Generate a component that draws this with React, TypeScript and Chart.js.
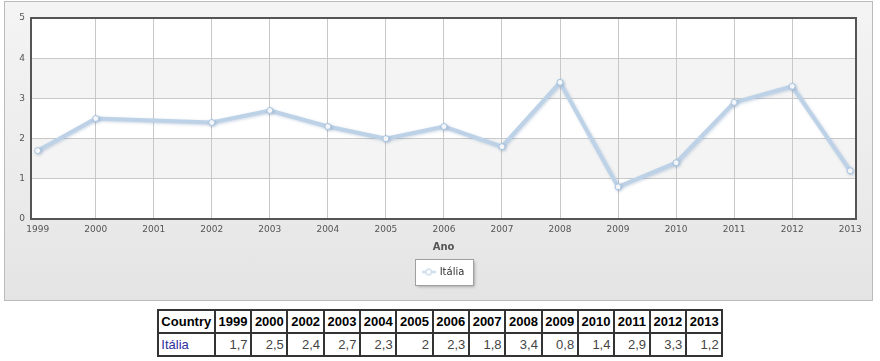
import React, { useEffect, useRef } from "react";
import { Chart, registerables } from "chart.js";

Chart.register(...registerables);

const seriesName = "Itália";
const xTitle = "Ano";
const countryHeader = "Country";
const years = [1999, 2000, 2002, 2003, 2004, 2005, 2006, 2007, 2008, 2009, 2010, 2011, 2012, 2013];
const values = [1.7, 2.5, 2.4, 2.7, 2.3, 2, 2.3, 1.8, 3.4, 0.8, 1.4, 2.9, 3.3, 1.2];
const xTickYears = [1999, 2000, 2001, 2002, 2003, 2004, 2005, 2006, 2007, 2008, 2009, 2010, 2011, 2012, 2013];
const yTickValues = [0, 1, 2, 3, 4, 5];
const shadedBands = [
  [1, 2],
  [3, 4],
];

function makeLegendIcon(): HTMLCanvasElement {
  const c = document.createElement("canvas");
  c.width = 14;
  c.height = 9;
  const g = c.getContext("2d")!;
  g.strokeStyle = "#c6d8ea";
  g.lineWidth = 2;
  g.beginPath();
  g.moveTo(0, 4.5);
  g.lineTo(14, 4.5);
  g.stroke();
  g.beginPath();
  g.arc(7, 4.5, 3, 0, Math.PI * 2);
  g.fillStyle = "#ffffff";
  g.fill();
  g.lineWidth = 1;
  g.strokeStyle = "#b4cce4";
  g.stroke();
  return c;
}

const plotDecor = {
  id: "plotDecor",
  beforeDraw(chart: any) {
    const { ctx, chartArea: a, scales } = chart;
    const y = scales.y;
    ctx.save();
    ctx.fillStyle = "#ffffff";
    ctx.fillRect(a.left, a.top, a.right - a.left, a.bottom - a.top);
    ctx.fillStyle = "#f4f4f4";
    for (const [lo, hi] of shadedBands) {
      const t = y.getPixelForValue(hi);
      const b = y.getPixelForValue(lo);
      ctx.fillRect(a.left, t, a.right - a.left, b - t);
    }
    // legend frame
    const lg = chart.legend;
    if (lg && lg.legendHitBoxes && lg.legendHitBoxes.length) {
      const h = lg.legendHitBoxes[0];
      const cy = h.top + h.height / 2;
      const x0 = Math.round(h.left - 8) + 0.5;
      const x1 = Math.round(h.left + h.width + 9) + 0.5;
      const y0 = Math.round(cy - 13) + 0.5;
      const y1 = Math.round(cy + 13) + 0.5;
      ctx.shadowColor = "rgba(0,0,0,0.35)";
      ctx.shadowBlur = 3;
      ctx.shadowOffsetX = 1;
      ctx.shadowOffsetY = 1;
      ctx.fillStyle = "#ffffff";
      ctx.fillRect(x0, y0, x1 - x0, y1 - y0);
      ctx.shadowColor = "transparent";
      ctx.strokeStyle = "#a0a0a0";
      ctx.lineWidth = 1;
      ctx.strokeRect(x0, y0, x1 - x0, y1 - y0);
    }
    ctx.restore();
  },
  beforeDatasetDraw(chart: any) {
    const ctx = chart.ctx;
    ctx.save();
    ctx.shadowColor = "rgba(110,140,180,0.35)";
    ctx.shadowBlur = 3;
    ctx.shadowOffsetX = 1;
    ctx.shadowOffsetY = 1;
  },
  afterDatasetDraw(chart: any) {
    chart.ctx.restore();
  },
  afterDraw(chart: any) {
    const { ctx, chartArea: a } = chart;
    ctx.save();
    ctx.strokeStyle = "#555555";
    ctx.lineWidth = 2;
    ctx.strokeRect(a.left, a.top, a.right - a.left, a.bottom - a.top);
    ctx.restore();
  },
};

function fmt(v: number): string {
  return String(v).replace(".", ",");
}

export default function App() {
  const ref = useRef<HTMLCanvasElement>(null);

  useEffect(() => {
    document.body.style.margin = "0";
    const canvas = ref.current!;
    const icon = makeLegendIcon();
    const chart = new Chart(canvas, {
      type: "line",
      data: {
        datasets: [
          {
            label: seriesName,
            data: years.map((yr, i) => ({ x: yr, y: values[i] })),
            borderColor: "#bdd2e7",
            borderWidth: 4,
            pointRadius: 3,
            pointBackgroundColor: "#ffffff",
            pointBorderColor: "#aac4df",
            pointBorderWidth: 1,
            tension: 0,
            fill: false,
          },
        ],
      },
      options: {
        animation: false,
        responsive: false,
        devicePixelRatio: 1,
        layout: { padding: { top: 18, left: 0, right: 24, bottom: 13 } },
        plugins: {
          tooltip: { enabled: false },
          legend: {
            display: true,
            position: "bottom",
            fullSize: false,
            labels: {
              usePointStyle: true,
              pointStyle: icon as any,
              pointStyleWidth: 12,
              padding: 10,
              color: "#333333",
              font: { family: "DejaVu Sans", size: 10 },
            },
          },
        },
        scales: {
          x: {
            type: "linear",
            min: 1998.885,
            max: 2013.1,
            afterBuildTicks: (scale: any) => {
              scale.ticks = xTickYears.map((v) => ({ value: v }));
            },
            afterFit: (scale: any) => {
              scale.height = 38;
            },
            grid: {
              drawTicks: false,
              color: (c: any) =>
                c.tick && (c.tick.value === xTickYears[0] || c.tick.value === xTickYears[xTickYears.length - 1])
                  ? "rgba(0,0,0,0)"
                  : "#c8c8c8",
            },
            border: { display: false },
            ticks: {
              padding: 5,
              color: "#555555",
              font: { family: "DejaVu Sans", size: 9 },
              maxRotation: 0,
              autoSkip: false,
              callback: (v: any) => String(v),
            },
            title: {
              display: true,
              text: xTitle,
              color: "#555555",
              font: { family: "DejaVu Sans", size: 10, weight: "bold" },
            },
          },
          y: {
            min: 0,
            max: 5,
            afterBuildTicks: (scale: any) => {
              scale.ticks = yTickValues.map((v) => ({ value: v }));
            },
            afterFit: (scale: any) => {
              scale.width = 31;
            },
            grid: { drawTicks: false, color: "#c8c8c8" },
            border: { display: false },
            ticks: {
              padding: 6,
              color: "#555555",
              font: { family: "DejaVu Sans", size: 9 },
              callback: (v: any) => String(v),
            },
          },
        },
      },
      plugins: [plotDecor],
    });
    return () => chart.destroy();
  }, []);

  const cellBorder = "2px solid #333333";
  const th: React.CSSProperties = {
    border: cellBorder,
    padding: "3px 2.7px",
    fontWeight: "bold",
    color: "#000",
    textAlign: "center",
  };
  const td: React.CSSProperties = {
    border: cellBorder,
    padding: "3px 2.7px",
    color: "#444",
    textAlign: "right",
  };

  return (
    <div style={{ position: "relative", width: 880, height: 361, overflow: "hidden", background: "#ffffff" }}>
      <div
        style={{
          position: "absolute",
          left: 4,
          top: 1,
          width: 867,
          height: 298,
          border: "1px solid #bbbbbb",
          background: "linear-gradient(to bottom, #f4f4f4 0%, #ebebeb 60%, #e4e4e4 100%)",
        }}
      />
      <canvas
        ref={ref}
        width={880}
        height={300}
        style={{ position: "absolute", left: 0, top: 0, width: 880, height: 300, display: "block" }}
      />
      <div style={{ position: "absolute", left: 0, top: 309, width: 880 }}>
        <table
          style={{
            borderCollapse: "collapse",
            margin: "0 auto",
            fontFamily: "'Liberation Sans', Arial, sans-serif",
            fontSize: 13,
            lineHeight: "15px",
          }}
        >
          <tbody>
            <tr>
              <th style={{ ...th, textAlign: "left" }}>{countryHeader}</th>
              {years.map((y) => (
                <th key={y} style={th}>
                  {y}
                </th>
              ))}
            </tr>
            <tr>
              <td style={{ ...td, textAlign: "left", color: "#2e2ea0" }}>{seriesName}</td>
              {values.map((v, i) => (
                <td key={i} style={td}>
                  {fmt(v)}
                </td>
              ))}
            </tr>
          </tbody>
        </table>
      </div>
    </div>
  );
}
